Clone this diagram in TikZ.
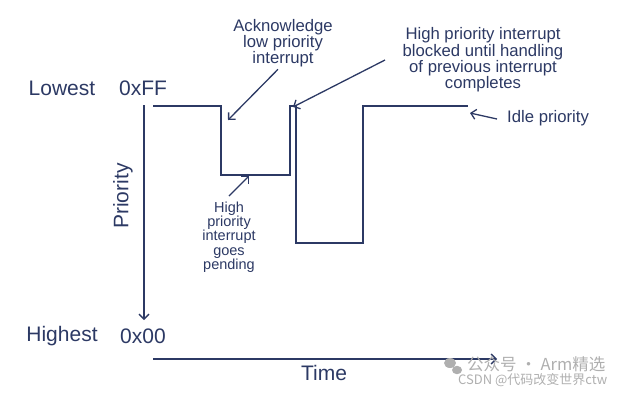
\documentclass[tikz,border=0pt]{standalone}
\usepackage{fontspec}
\setmainfont{Liberation Sans}
\newfontfamily\cjkfont{Noto Sans CJK SC}
\usetikzlibrary{arrows.meta}
\definecolor{navy}{RGB}{44,57,100}
\definecolor{wmgray}{RGB}{175,175,175}
\begin{document}
\begin{tikzpicture}[x=1pt,y=-1pt,
  big/.style={font=\fontsize{21}{23}\selectfont, text=navy, inner sep=0pt},
  note/.style={font=\fontsize{16.7}{16.3}\selectfont, text=navy, align=center, inner sep=0pt},
  small/.style={font=\fontsize{14.5}{14.3}\selectfont, text=navy, align=center, inner sep=0pt},
  axis/.style={draw=navy, line width=1.4pt, -{Straight Barb[length=5pt,width=10pt]}},
  callout/.style={draw=navy, line width=1.3pt, -{Straight Barb[length=5pt,width=10pt]}},
  wave/.style={draw=navy, line width=2pt, line join=miter},
  wmark/.style={text=wmgray, inner sep=0pt}]
\useasboundingbox (0,0) rectangle (620,402);

% axis labels
\node[big] (lowest) at (62,88) {Lowest};
\node[big] (ff) at (143,88) {0xFF};
\node[big] (highest) at (62,336) {Highest};
\node[big] (zero) at (143,336) {0x00};
\node[big, rotate=90] (prio) at (123,196) {Priority};
\node[big] (time) at (324,373) {Time};

% axes
\coordinate (ytop) at (144,105);
\coordinate (ybot) at (144,320);
\draw[axis] (ytop) -- (ybot);
\coordinate (xl) at (153,359);
\coordinate (xr) at (497,359);
\draw[axis] (xl) -- (xr);

% waveform
\coordinate (w0) at (153,106);
\coordinate (w1) at (221,106);
\coordinate (w2) at (221,175);
\coordinate (w3) at (290,175);
\coordinate (w4) at (290,106);
\coordinate (w5) at (296,106);
\coordinate (w6) at (296,243);
\coordinate (w7) at (363,243);
\coordinate (w8) at (363,106);
\coordinate (w9) at (468,106);
\draw[wave] (w0) -- (w1) -- (w2) -- (w3) -- (w4) -- (w5) -- (w6) -- (w7) -- (w8) -- (w9);

% annotations
\node[note] (ack) at (283,43) {Acknowledge\\low priority\\interrupt};
\coordinate (ackT) at (228,120);
\draw[callout] ([xshift=-5pt,yshift=-2pt]ack.south) -- (ackT);

\node[note] (blk) at (483,60) {High priority interrupt\\blocked until handling\\of previous interrupt\\completes};
\coordinate (blkS) at (385,60);
\coordinate (blkT) at (293,107);
\draw[callout] (blkS) -- (blkT);

\node[note, anchor=west] (idle) at (507,118) {Idle priority};
\coordinate (idleS) at (497,119);
\coordinate (idleT) at (470,113);
\draw[callout] (idleS) -- (idleT);

\node[small] (pend) at (229,237) {High\\priority\\interrupt\\goes\\pending};
\coordinate (pendS) at (229,196);
\coordinate (pendT) at (249,176);
\draw[callout] (pendS) -- (pendT);

% watermark
\fill[wmgray] (450,363) ellipse (6pt and 5pt);
\fill[wmgray] (457,370) ellipse (5pt and 4.2pt);
\node[wmark, font=\cjkfont\fontsize{16.5}{17}\selectfont, anchor=west] (wm1) at (467,364) {公众号 · Arm精选};
\node[wmark, font=\cjkfont\fontsize{13}{13}\selectfont, anchor=west] (wm2) at (458,380) {CSDN @代码改变世界ctw};
\end{tikzpicture}
\end{document}
